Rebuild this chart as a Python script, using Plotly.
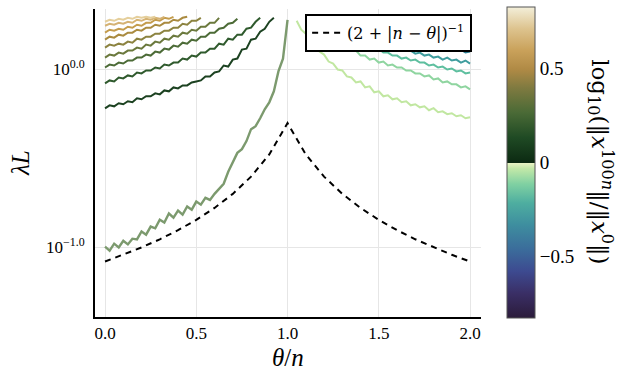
import numpy as np
import plotly.graph_objects as go

STEP = 0.025

# Upper-left family (positive colour values), lambda*L, theta/n starts at 0
c1 = [0.605,0.629,0.621,0.646,0.638,0.663,0.655,0.689,0.680,0.707,0.707,0.735,0.725,0.763,0.754,0.793,0.783,0.814,0.814,0.846,0.857,0.868,0.914,0.914,0.962,0.975,1.053,1.039,1.137,1.152,1.294,1.310,1.471,1.490,1.631,1.695,1.854,1.952]
c2 = [0.835,0.868,0.857,0.902,0.891,0.926,0.914,0.962,0.950,0.987,0.987,1.026,1.013,1.066,1.053,1.094,1.094,1.152,1.137,1.197,1.182,1.245,1.245,1.310,1.310,1.397,1.380,1.490,1.471,1.569,1.569,1.695,1.717,1.854,1.952]
c3 = [1.026,1.066,1.053,1.094,1.080,1.123,1.123,1.167,1.167,1.213,1.197,1.260,1.245,1.310,1.294,1.362,1.344,1.415,1.397,1.471,1.452,1.529,1.529,1.610,1.610,1.695,1.717,1.807,1.830,1.927]
c4 = [1.167,1.213,1.197,1.245,1.228,1.277,1.277,1.327,1.310,1.380,1.362,1.434,1.415,1.490,1.471,1.549,1.529,1.610,1.589,1.673,1.652,1.739,1.739,1.830,1.830,1.952]
c5 = [1.327,1.380,1.362,1.397,1.380,1.434,1.415,1.490,1.471,1.529,1.529,1.589,1.589,1.652,1.652,1.717,1.717,1.807,1.784,1.878,1.878,1.952]
c6 = [1.471,1.529,1.510,1.569,1.549,1.610,1.610,1.673,1.652,1.717,1.717,1.784,1.762,1.830,1.830,1.903,1.878,1.952,1.978]
c7 = [1.610,1.673,1.652,1.695,1.673,1.739,1.717,1.784,1.762,1.830,1.830,1.903,1.878,1.952,1.927,1.978]
c8 = [1.762,1.807,1.784,1.830,1.807,1.854,1.830,1.903,1.878,1.927,1.903,1.952,1.927,1.978]
c9 = [1.854,1.903,1.878,1.927,1.903,1.952,1.927,1.978,1.952,1.978,1.952,1.978]
upper_curves = [c1, c2, c3, c4, c5, c6, c7, c8, c9]
upper_colors = ["#1c4221", "#2f5a2d", "#4c6b37", "#6b793d", "#8c8340", "#aa8b40", "#c49c4c", "#d5b273", "#e5cf9c"]

# Right family (negative colour values): start theta/n, values
r1_start, r1 = 1.05, [1.878,1.673,1.589,1.434,1.380,1.260,1.213,1.108,1.080,1.000,0.987,0.914,0.902,0.846,0.857,0.793,0.804,0.744,0.754,0.707,0.716,0.680,0.689,0.655,0.663,0.629,0.638,0.613,0.621,0.590,0.606,0.575,0.582,0.561,0.568,0.546,0.553,0.532,0.539]
r2_start, r2 = 1.125, [1.952,1.807,1.762,1.652,1.610,1.510,1.471,1.380,1.362,1.277,1.277,1.197,1.197,1.137,1.152,1.094,1.108,1.053,1.066,1.026,1.026,0.987,0.987,0.950,0.950,0.914,0.926,0.879,0.891,0.846,0.857,0.825,0.825,0.793,0.804,0.773]
r3_start, r3 = 1.2, [1.978,1.878,1.830,1.717,1.695,1.589,1.569,1.471,1.452,1.380,1.380,1.310,1.310,1.245,1.245,1.197,1.197,1.152,1.167,1.123,1.137,1.094,1.094,1.053,1.066,1.026,1.039,1.000,1.013,0.975,0.987,0.950,0.962]
r4_start, r4 = 1.3, [1.952,1.903,1.784,1.739,1.631,1.610,1.510,1.510,1.434,1.434,1.362,1.362,1.310,1.327,1.277,1.277,1.228,1.245,1.197,1.213,1.167,1.182,1.137,1.167,1.123,1.137,1.094,1.123,1.080]
r5_start, r5 = 1.45, [1.978,1.878,1.878,1.762,1.762,1.652,1.652,1.569,1.569,1.510,1.510,1.452,1.452,1.397,1.397,1.344,1.362,1.310,1.327,1.277,1.294,1.245,1.260]
right_curves = [(r1_start, r1), (r2_start, r2), (r3_start, r3), (r4_start, r4), (r5_start, r5)]
right_colors = ["#c1e7a1", "#8fd5a0", "#5ebf9f", "#3f9d9e", "#2f7f93"]

# Noisy middle curve
mid = [0.101,0.096,0.105,0.100,0.109,0.104,0.112,0.111,0.123,0.118,0.131,0.128,0.143,0.138,0.155,0.147,0.161,0.153,0.170,0.163,0.181,0.174,0.190,0.185,0.200,0.214,0.228,0.266,0.299,0.340,0.357,0.396,0.462,0.480,0.532,0.598,0.654,0.754,0.975,1.150,1.900]
mid_color = "#7c9a6e"

# Dashed reference (2+|n-theta|)^-1, read at theta/n = 0, 0.1, ..., 2
ref_theta = [0.0,0.1,0.2,0.3,0.4,0.5,0.6,0.7,0.8,0.9,1.0,1.1,1.2,1.3,1.4,1.5,1.6,1.7,1.8,1.9,2.0]
ref_vals = [0.0833,0.0909,0.1,0.1111,0.125,0.1429,0.1667,0.2,0.25,0.3333,0.5,0.3333,0.25,0.2,0.1667,0.1429,0.125,0.1111,0.1,0.0909,0.0833]

# Colour bar
cb_min, cb_max = -0.83, 0.83
cb_ticks = [-0.5, 0, 0.5]
cb_ticktext = ["−0.5", "0", "0.5"]
topo_scale = [
    [0.0, "#2b1b3a"], [0.08, "#3a2f66"], [0.15, "#3d4a90"], [0.22, "#3b6c9b"],
    [0.30, "#3e8e9f"], [0.37, "#4eaea0"], [0.43, "#7fd0a2"], [0.48, "#c2e8a8"],
    [0.50, "#eef5c8"], [0.50, "#0c2a12"], [0.58, "#1f4a24"], [0.66, "#4a6a36"],
    [0.74, "#7f7a40"], [0.80, "#b08a45"], [0.86, "#c9a15a"], [0.93, "#ddc38e"],
    [1.0, "#f3efda"],
]

LIGHT = "Liberation Serif"
WIDE = "DejaVu Serif"

fig = go.Figure()
for vals, col in zip(upper_curves, upper_colors):
    th = np.arange(len(vals)) * STEP
    fig.add_trace(go.Scatter(x=th, y=vals, mode="lines", line=dict(color=col, width=2), showlegend=False, hoverinfo="skip"))
for (st, vals), col in zip(right_curves, right_colors):
    th = st + np.arange(len(vals)) * STEP
    fig.add_trace(go.Scatter(x=th, y=vals, mode="lines", line=dict(color=col, width=2), showlegend=False, hoverinfo="skip"))
fig.add_trace(go.Scatter(x=np.arange(len(mid)) * STEP, y=mid, mode="lines", line=dict(color=mid_color, width=2.4), showlegend=False, hoverinfo="skip"))
fig.add_trace(go.Scatter(x=ref_theta, y=ref_vals, mode="lines", line=dict(color="black", width=2, dash="6px,5px"),
                         name="(2 + |<i>n</i> − <i>θ</i>|)<sup>−1</sup>", showlegend=True))
# colour bar carrier
fig.add_trace(go.Scatter(x=[1.0], y=[0.5], mode="markers", showlegend=False, hoverinfo="skip",
                         marker=dict(size=1, opacity=0, color=[0], cmin=cb_min, cmax=cb_max, colorscale=topo_scale, showscale=True,
                                     colorbar=dict(x=(507-95)/386, xanchor="left", xpad=0, ypad=0, thickness=28,
                                                   len=311, lenmode="pixels", y=0.5016, yanchor="middle",
                                                   tickvals=cb_ticks, ticktext=cb_ticktext, ticks="",
                                                   tickfont=dict(family=LIGHT, size=19, color="black"),
                                                   outlinecolor="#555", outlinewidth=1))))

fig.update_layout(
    width=623, height=380,
    margin=dict(l=95, r=142, t=7, b=63),
    paper_bgcolor="white", plot_bgcolor="white",
    font=dict(family=LIGHT, color="black"),
    legend=dict(x=0.977, xanchor="right", y=0.984, yanchor="top", bordercolor="black", borderwidth=2,
                bgcolor="white", font=dict(family=WIDE, size=16), itemwidth=30),
    xaxis=dict(range=[-0.055, 2.06], tickvals=[0, 0.5, 1.0, 1.5, 2.0], ticktext=["0.0", "0.5", "1.0", "1.5", "2.0"],
               showgrid=True, gridcolor="#e6e6e6", gridwidth=1, zeroline=False, showline=True, linecolor="black",
               linewidth=2, ticks="", tickfont=dict(family=LIGHT, size=17)),
    yaxis=dict(type="log", range=[-1.391, 0.34], tickvals=[0.1, 1.0], ticktext=["10<sup>−1.0</sup>", "10<sup>0.0</sup>"],
               showgrid=True, gridcolor="#e6e6e6", gridwidth=1, zeroline=False, showline=True, linecolor="black",
               linewidth=2, ticks="", tickfont=dict(family=LIGHT, size=17), ticklabelstandoff=5),
    annotations=[
        dict(text="<i>λL</i>", xref="paper", yref="paper", x=(20-95)/386, y=0.5, xanchor="center", yanchor="middle",
             textangle=-90, showarrow=False, font=dict(family=LIGHT, size=25)),
        dict(text="<i>θ</i>/<i>n</i>", xref="paper", yref="paper", x=0.5, y=(317-358)/310, xanchor="center",
             yanchor="middle", showarrow=False, font=dict(family=LIGHT, size=25)),
        dict(text="log<sub>10</sub>(‖<i>x</i><sup>100<i>n</i></sup>‖/‖<i>x</i><sup>0</sup>‖)", xref="paper", yref="paper",
             x=(601-95)/386, y=0.506, xanchor="center", yanchor="middle", textangle=90, showarrow=False,
             font=dict(family=WIDE, size=23)),
    ],
)

fig.write_html("out.html")
